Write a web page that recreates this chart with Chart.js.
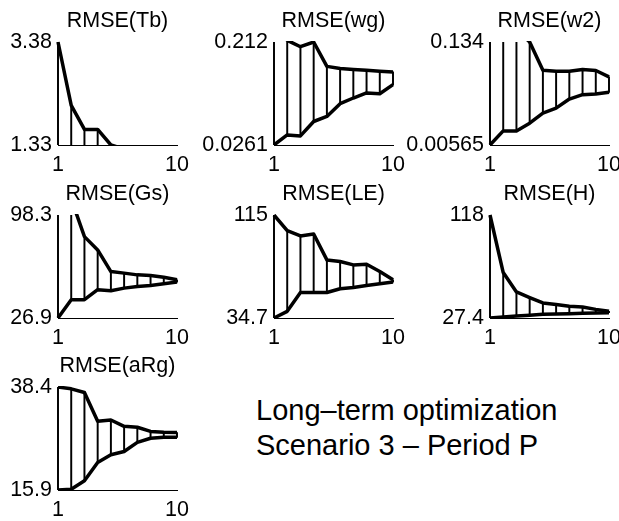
<!DOCTYPE html>
<html>
<head>
<meta charset="utf-8">
<script src="https://cdn.jsdelivr.net/npm/chart.js@4.4.0/dist/chart.umd.min.js"></script>
<style>
html,body{margin:0;padding:0;background:#fff;width:619px;height:521px;overflow:hidden;}
#wrap{position:relative;width:619px;height:521px;overflow:hidden;background:#fff;}
#wrap canvas{position:absolute;}
#note{position:absolute;left:256px;top:393px;font-family:"Liberation Sans",Arial,Helvetica,sans-serif;font-size:29px;line-height:35px;color:#000;white-space:nowrap;}
</style>
</head>
<body>
<div id="wrap"><div id="note">Long–term optimization<br>Scenario 3 – Period P</div></div>
<script>
// ---- data ----
const xValues = [1, 2, 3, 4, 5, 6, 7, 8, 9, 10];
const xTickLabels = ['1', '10'];

const titles = ['RMSE(Tb)', 'RMSE(wg)', 'RMSE(w2)', 'RMSE(Gs)', 'RMSE(LE)', 'RMSE(H)', 'RMSE(aRg)'];

const tbTicks  = ['1.33', '3.38'];
const wgTicks  = ['0.0261', '0.212'];
const w2Ticks  = ['0.00565', '0.134'];
const gsTicks  = ['26.9', '98.3'];
const leTicks  = ['34.7', '115'];
const hTicks   = ['27.4', '118'];
const argTicks = ['15.9', '38.4'];

const tbUpper  = [3.38, 2.12, 1.64, 1.64, 1.33, 1.25, 1.24, 1.23, 1.22, 1.22];
const tbLower  = [1.20, 1.20, 1.20, 1.20, 1.20, 1.20, 1.20, 1.20, 1.20, 1.20];
const wgUpper  = [0.25, 0.215, 0.2035, 0.212, 0.168, 0.164, 0.1623, 0.161, 0.1593, 0.158];
const wgLower  = [0.0261, 0.0443, 0.0425, 0.0685, 0.0776, 0.1006, 0.1109, 0.120, 0.1187, 0.1351];
const w2Upper  = [0.17, 0.16, 0.15, 0.134, 0.0989, 0.0976, 0.0976, 0.0997, 0.0985, 0.0905];
const w2Lower  = [0.00565, 0.0232, 0.0232, 0.0328, 0.0454, 0.0516, 0.0629, 0.0684, 0.0692, 0.0713];
const gsUpper  = [115, 109.4, 83.3, 74.1, 59.1, 58.0, 56.8, 56.4, 55.2, 53.4];
const gsLower  = [26.9, 39.6, 39.6, 46.5, 45.8, 47.6, 48.8, 49.5, 50.6, 51.8];
const leUpper  = [115, 102.8, 98.7, 100.2, 80.0, 78.7, 76.1, 76.6, 71.0, 64.5];
const leLower  = [34.7, 39.9, 54.6, 54.6, 54.6, 57.5, 58.5, 60.1, 61.4, 62.7];
const hUpper   = [118, 67.4, 50.3, 45.3, 40.6, 39.2, 37.7, 37.1, 35.0, 33.3];
const hLower   = [27.4, 28.3, 29.2, 29.8, 30.6, 31.0, 31.2, 31.5, 31.8, 32.1];
const argUpper = [38.4, 38.0, 37.2, 30.9, 31.2, 29.8, 29.6, 28.7, 28.5, 28.45];
const argLower = [15.9, 16.05, 17.9, 21.9, 23.6, 24.3, 26.3, 27.2, 27.4, 27.4];

// ---- panels built from the arrays ----
const panels = [
  {title: titles[0], ticks: tbTicks,  upper: tbUpper,  lower: tbLower},
  {title: titles[1], ticks: wgTicks,  upper: wgUpper,  lower: wgLower},
  {title: titles[2], ticks: w2Ticks,  upper: w2Upper,  lower: w2Lower},
  {title: titles[3], ticks: gsTicks,  upper: gsUpper,  lower: gsLower},
  {title: titles[4], ticks: leTicks,  upper: leUpper,  lower: leLower},
  {title: titles[5], ticks: hTicks,   upper: hUpper,   lower: hLower},
  {title: titles[6], ticks: argTicks, upper: argUpper, lower: argLower}
];

// layout: plot-area left edges / top edges
const plotLeft = [58, 274, 490];
const plotTop = [42, 215, 387];
const YW = 100;            // y-axis box width
const PW = 119;            // plot width
const PADR = 22;           // right padding for last x label
const TOPH = 42;           // title box height
const XH = 30;             // x-axis box height
const PH = 103;            // plot height
const CW = YW + PW + PADR, CH = TOPH + PH + XH;
const FONT = '"Liberation Sans", Arial, Helvetica, sans-serif';

const wrap = document.getElementById('wrap');

panels.forEach((p, k) => {
  const c = document.createElement('canvas');
  c.width = CW; c.height = CH;
  c.style.width = CW + 'px'; c.style.height = CH + 'px';
  c.style.left = (plotLeft[k % 3] - YW) + 'px';
  c.style.top = (plotTop[Math.floor(k / 3)] - TOPH) + 'px';
  wrap.appendChild(c);

  const yMin = parseFloat(p.ticks[0]);
  const yMax = parseFloat(p.ticks[1]);

  new Chart(c, {
    type: 'line',
    data: {
      datasets: [
        {
          type: 'line',
          data: xValues.map((x, i) => ({x: x, y: p.upper[i]})),
          borderColor: '#000', borderWidth: 3.5, pointRadius: 0, tension: 0,
          borderJoinStyle: 'round', fill: false, order: 1,
          clip: {left: 3, right: 3, top: 1, bottom: 1}
        },
        {
          type: 'line',
          data: xValues.map((x, i) => ({x: x, y: p.lower[i]})),
          borderColor: '#000', borderWidth: 3.5, pointRadius: 0, tension: 0,
          borderJoinStyle: 'round', fill: false, order: 1,
          clip: {left: 3, right: 3, top: 1, bottom: 1}
        },
        {
          type: 'bar',
          data: xValues.map((x, i) => ({x: x, y: [p.lower[i], p.upper[i]]})),
          backgroundColor: '#000', borderWidth: 0, barThickness: 1.3, order: 2,
          clip: {left: 2, right: 2, top: 0, bottom: 0}
        }
      ]
    },
    options: {
      responsive: false,
      animation: false,
      events: [],
      layout: {padding: {left: 0, right: PADR, top: 0, bottom: 0}},
      plugins: {
        legend: {display: false},
        tooltip: {enabled: false},
        title: {
          display: true, fullSize: false, text: p.title, color: '#000',
          font: {family: FONT, size: 21.5, weight: 'normal'},
          padding: {top: 7.8, bottom: 8.4}
        }
      },
      scales: {
        x: {
          type: 'linear', min: 1, max: 10, offset: false,
          grid: {display: false, drawTicks: false},
          border: {display: true, color: '#000', width: 1},
          ticks: {
            padding: 7, color: '#000', maxRotation: 0, autoSkip: false,
            font: {family: FONT, size: 21.5},
            callback: (v, i) => xTickLabels[i]
          },
          afterBuildTicks: s => { s.ticks = [{value: xValues[0]}, {value: xValues[xValues.length - 1]}]; },
          afterFit: s => { s.height = XH; }
        },
        y: {
          type: 'linear', min: yMin, max: yMax,
          grid: {display: false, drawTicks: false},
          border: {display: false},
          ticks: {
            padding: 6, color: '#000', autoSkip: false,
            font: {family: FONT, size: 21.5},
            callback: (v, i) => p.ticks[i]
          },
          afterBuildTicks: s => { s.ticks = [{value: yMin}, {value: yMax}]; },
          afterFit: s => { s.width = YW; }
        }
      }
    }
  });
});
</script>
</body>
</html>
